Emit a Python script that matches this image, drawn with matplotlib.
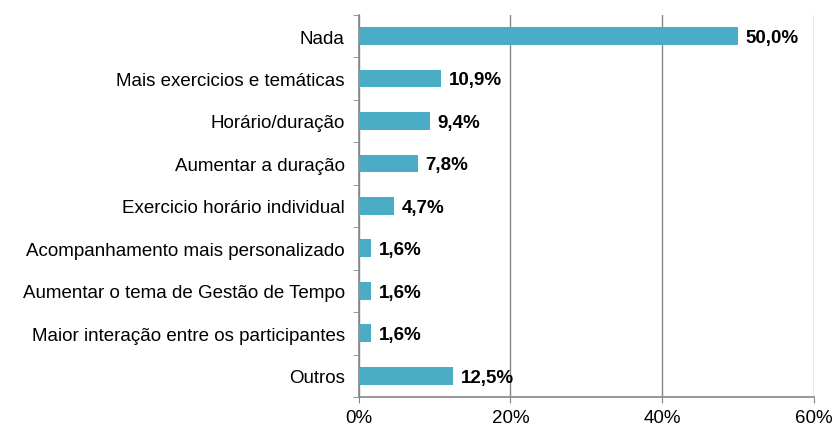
import matplotlib
matplotlib.use("Agg")
import matplotlib.pyplot as plt
import numpy as np
from matplotlib.ticker import FixedLocator, PercentFormatter

plt.rcParams["font.family"] = ["Liberation Sans", "DejaVu Sans"]

categories = [
    "Nada",
    "Mais exercicios e temáticas",
    "Horário/duração",
    "Aumentar a duração",
    "Exercicio horário individual",
    "Acompanhamento mais personalizado",
    "Aumentar o tema de Gestão de Tempo",
    "Maior interação entre os participantes",
    "Outros",
]
values = [50.0, 10.9, 9.4, 7.8, 4.7, 1.6, 1.6, 1.6, 12.5]
xticks = [0, 20, 40, 60]

bar_color = "#4BACC6"
grid_color = "#868686"

fig = plt.figure(figsize=(8.34, 4.27), dpi=100)
ax = fig.add_axes([0.43, 0.068, 0.546, 0.895])

y = np.arange(len(categories))
ax.barh(y, values, height=0.42, color=bar_color, zorder=3)
for yi, v in zip(y, values):
    ax.annotate(f"{v:.1f}%".replace(".", ","), (v, yi), xytext=(5.5, -1),
                textcoords="offset points", va="center", ha="left",
                fontsize=13.5, fontweight="bold", zorder=4)

ax.set_xlim(0, 60)
ax.set_ylim(len(categories) - 0.5, -0.5)
ax.set_xticks(xticks)
ax.xaxis.set_major_formatter(PercentFormatter(decimals=0))
ax.set_yticks(y)
ax.set_yticklabels(categories)
ax.yaxis.set_minor_locator(FixedLocator(np.arange(-0.5, len(categories), 1)))
ax.tick_params(axis="y", which="major", length=0, pad=10, labelsize=13.5)
ax.tick_params(axis="y", which="minor", length=4, color=grid_color)
ax.tick_params(axis="x", length=4, color=grid_color, labelsize=13.5, pad=5)

ax.grid(axis="x", color=grid_color, lw=1, zorder=0)
for s in ["top", "right"]:
    ax.spines[s].set_visible(False)
for s in ["left", "bottom"]:
    ax.spines[s].set_color(grid_color)
    ax.spines[s].set_linewidth(1.2)

fig.savefig("out.png", dpi=100)
